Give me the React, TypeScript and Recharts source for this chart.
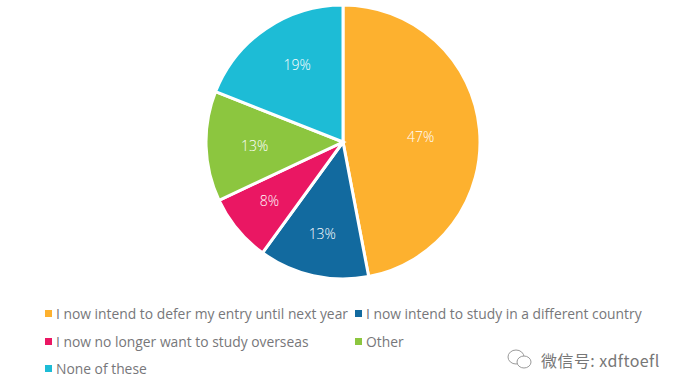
import { PieChart, Pie, Cell, Legend } from 'recharts'

const categories = [
  'I now intend to defer my entry until next year',
  'I now intend to study in a different country',
  'I now no longer want to study overseas',
  'Other',
  'None of these',
]
const shares = [47, 13, 8, 13, 19]
const colors = ['#fdb12f', '#126a9f', '#ea1763', '#8cc63f', '#1dbcd6']

const data = categories.map((name, i) => ({ name, value: shares[i] }))

const RADIAN = Math.PI / 180
const FONT = '"Open Sans", sans-serif'

// hand nudges so the labels land where the original has them
const labelNudge = [
  [0, 2],
  [-1, 3],
  [-4, 1],
  [2, 1],
  [5, -3],
]

const renderLabel = ({ cx, cy, midAngle, outerRadius, value, index }: any) => {
  const r = outerRadius * (value > 40 ? 0.57 : 0.66)
  const x = cx + r * Math.cos(-midAngle * RADIAN) + labelNudge[index][0]
  const y = cy + r * Math.sin(-midAngle * RADIAN) + labelNudge[index][1]
  return (
    <text x={x} y={y} fill="#fff" fontSize={14} fontWeight={300} fontFamily={FONT} textAnchor="middle" dominantBaseline="central">
      {value}%
    </text>
  )
}

const renderLegend = ({ payload }: any) => (
  <div
    style={{
      display: 'grid',
      gridTemplateColumns: '310px 320px',
      gridAutoRows: '27.5px',
      fontFamily: FONT,
      fontSize: 13.85,
      color: '#77777a',
    }}
  >
    {payload.map((item: any) => (
      <div key={item.value} style={{ display: 'flex', alignItems: 'center', whiteSpace: 'nowrap' }}>
        <span style={{ width: 7, height: 7, background: item.color, marginRight: 4 }} />
        {item.value}
      </div>
    ))}
  </div>
)

const Watermark = () => (
  <div
    style={{
      position: 'absolute',
      left: 505,
      top: 347,
      display: 'flex',
      alignItems: 'center',
      fontFamily: '"Noto Sans CJK SC", sans-serif',
      fontSize: 16,
      letterSpacing: 0.45,
      color: '#777',
      whiteSpace: 'nowrap',
    }}
  >
    <svg width={30} height={26} style={{ marginRight: 6 }}>
      <ellipse cx={11} cy={10} rx={8} ry={7} fill="#fff" stroke="#9a9a9a" />
      <ellipse cx={19} cy={15} rx={7} ry={6} fill="#fff" stroke="#9a9a9a" />
    </svg>
    微信号: xdftoefl
  </div>
)

export default function App() {
  return (
    <div style={{ position: 'absolute', left: 0, top: 0, width: 682, height: 390, background: '#fff' }}>
      <PieChart width={682} height={390} margin={{ top: 0, right: 0, bottom: 0, left: 0 }}>
        <Pie
          data={data}
          dataKey="value"
          nameKey="name"
          cx={343}
          cy={142}
          outerRadius={137}
          startAngle={90}
          endAngle={-270}
          stroke="#fff"
          strokeWidth={3}
          label={renderLabel}
          labelLine={false}
          isAnimationActive={false}
        >
          {data.map((d, i) => (
            <Cell key={d.name} fill={colors[i]} />
          ))}
        </Pie>
        <Legend
          layout="horizontal"
          verticalAlign="bottom"
          itemSorter={null}
          height={90}
          wrapperStyle={{ left: 45, top: 300, bottom: 'auto', width: 637 }}
          content={renderLegend}
        />
      </PieChart>
      <Watermark />
    </div>
  )
}
